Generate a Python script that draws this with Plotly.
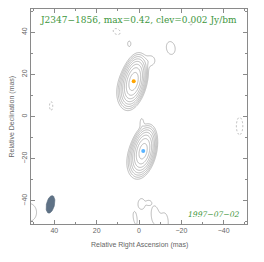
import numpy as np
import plotly.graph_objects as go

source_name = "J2347−1856"
image_max = 0.42
clev = 0.002
obs_date = "1997−07−02"

# Gaussian components read from the map: RA (mas), Dec (mas), peak (Jy/bm),
# FWHM major (mas), FWHM minor (mas), position angle (deg)
comp_ra   = [2.5,   5.0,   -2.0,  0.5,   -1.3,   -5.5,   4.6,    -15.0,  10.5,    -24.5,   41.5,    -47.5,   52.0,   -1.2,   1.8,    -4.7,   -7.2,   -12.0]
comp_dec  = [16.7,  14.0,  -16.4, -19.5, -2.8,   26.5,   34.5,   32.5,   40.3,    44.2,    5.0,     -4.5,    -45.5,  -41.5,  -48.5,  -40.9,  -46.5,  -50.5]
comp_peak = [0.42,  0.02,  0.38,  0.015, 0.0030, 0.0034, 0.0027, 0.0027, -0.0027, -0.0026, -0.0027, -0.0027, 0.0027, 0.0027, 0.0027, 0.0026, 0.0027, 0.0027]
comp_maj  = [10.0,  10.0,  9.6,   10.0,  4.5,    5.0,    3.9,    9.3,    5.4,     2.3,     6.2,     12.4,    13.0,   7.7,    8.0,    2.0,    10.8,   14.0]
comp_min  = [4.6,   5.5,   4.6,   5.5,   1.8,    4.5,    2.3,    6.2,    3.9,     2.3,     2.3,     4.6,     11.0,   5.0,    2.4,    2.0,    3.9,    5.5]
comp_pa   = [-13.0, -13.0, -13.0, -13.0, 0.0,    0.0,    0.0,    10.0,   60.0,    0.0,     0.0,     0.0,     0.0,    0.0,    10.0,   0.0,    0.0,    0.0]

# model-fit component markers
marker_ra = [2.5, -2.0]
marker_dec = [16.7, -16.4]
marker_colors = ["#ffa500", "#5ab4ff"]

# restoring beam
beam_ra, beam_dec = 41.8, -41.7
beam_maj, beam_min, beam_pa = 8.5, 3.8, -13.0

tick_vals = [-40, -20, 0, 20, 40]
axis_lim = 51.0

# ---- build the map
grid = np.linspace(-axis_lim, axis_lim, 409)
X, Y = np.meshgrid(grid, grid)
img = np.zeros_like(X)
for ra, dec, pk, mj, mn, pa in zip(comp_ra, comp_dec, comp_peak, comp_maj, comp_min, comp_pa):
    p = np.deg2rad(pa)
    dx, dy = X - ra, Y - dec
    v = dx * np.sin(p) + dy * np.cos(p)
    u = dx * np.cos(p) - dy * np.sin(p)
    smj, smn = mj / 2.3548, mn / 2.3548
    img += pk * np.exp(-0.5 * (v ** 2 / smj ** 2 + u ** 2 / smn ** 2))

z_pos = np.log2(np.maximum(img, 1e-12) / clev)
z_neg = np.log2(np.maximum(-img, 1e-12) / clev)
n_levels = int(np.floor(np.log2(image_max / clev)))

line_col = "#a2a2a2"
fig = go.Figure()
fig.add_trace(go.Contour(
    x=grid, y=grid, z=z_pos, autocontour=False,
    contours=dict(start=0, end=n_levels, size=1, coloring="none"),
    line=dict(color=line_col, width=0.75), showscale=False, hoverinfo="skip"))
fig.add_trace(go.Contour(
    x=grid, y=grid, z=z_neg, autocontour=False,
    contours=dict(start=0, end=0.5, size=1, coloring="none"),
    line=dict(color=line_col, width=0.75, dash="2px,2px"), showscale=False, hoverinfo="skip"))

# beam ellipse
t = np.linspace(0, 2 * np.pi, 80)
bp = np.deg2rad(beam_pa)
a, b = beam_maj / 2, beam_min / 2
ex = beam_ra + a * np.cos(t) * np.sin(bp) + b * np.sin(t) * np.cos(bp)
ey = beam_dec + a * np.cos(t) * np.cos(bp) - b * np.sin(t) * np.sin(bp)
fig.add_trace(go.Scatter(x=ex, y=ey, mode="lines", fill="toself",
                         fillcolor="#5f7286", line=dict(color="#56687a", width=0.6),
                         hoverinfo="skip"))

fig.add_trace(go.Scatter(x=marker_ra, y=marker_dec, mode="markers",
                         marker=dict(color=marker_colors, size=4, line=dict(width=0)),
                         hoverinfo="skip"))

axis_common = dict(
    showgrid=False, zeroline=False, showline=True, linecolor="#8a8a8a", linewidth=1,
    mirror="allticks", ticks="inside", ticklen=4, tickwidth=1, tickcolor="#8a8a8a",
    tickvals=tick_vals, tickfont=dict(family="Liberation Sans", size=7, color="#666666"),
    minor=dict(ticks="inside", ticklen=2, tickwidth=1, tickcolor="#8a8a8a", dtick=10, showgrid=False),
    automargin=False,
)
fig.update_xaxes(range=[axis_lim, -axis_lim], **axis_common)
fig.update_yaxes(range=[-axis_lim, axis_lim], tickangle=-90, **axis_common)

green = "#3d963d"
fig.update_layout(
    width=256, height=254, showlegend=False,
    margin=dict(l=23, r=17, t=1, b=38),
    paper_bgcolor="white", plot_bgcolor="white",
    annotations=[
        dict(text=f"{source_name}, max={image_max}, clev={clev} Jy/bm",
             xref="paper", yref="paper", x=0.497, y=0.949, showarrow=False,
             font=dict(family="DejaVu Serif", size=9.0, color=green),
             xanchor="center", yanchor="middle"),
        dict(text=f"<i>{obs_date}</i>", xref="paper", yref="paper", x=0.977, y=0.042,
             showarrow=False, font=dict(family="DejaVu Serif", size=7.6, color=green),
             xanchor="right", yanchor="middle"),
        dict(text="Relative Right Ascension (mas)", xref="paper", yref="paper",
             x=0.5, y=-0.098, showarrow=False,
             font=dict(family="Liberation Sans", size=7, color="#666666"),
             xanchor="center", yanchor="middle"),
        dict(text="Relative Declination (mas)", xref="paper", yref="paper",
             x=-0.088, y=0.5, showarrow=False, textangle=-90,
             font=dict(family="Liberation Sans", size=7, color="#666666"),
             xanchor="center", yanchor="middle"),
    ],
)
fig.write_html("out.html")
